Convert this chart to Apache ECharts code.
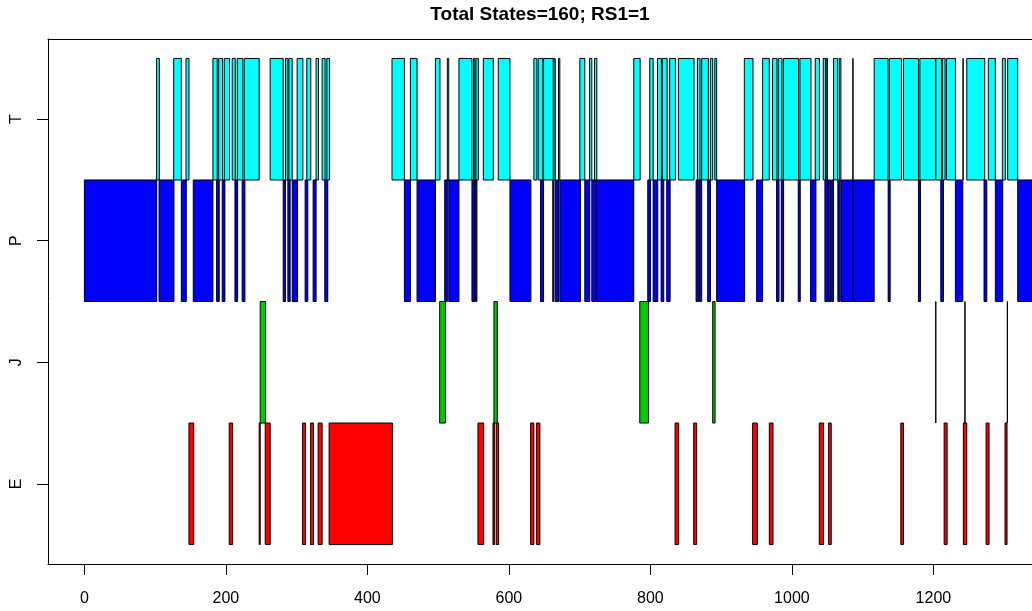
<!DOCTYPE html>
<html>
<head>
<meta charset="utf-8">
<script src="https://cdn.jsdelivr.net/npm/echarts@6/dist/echarts.min.js"></script>
<style>html,body{margin:0;padding:0;background:#fff;}#c{width:1032px;height:611px;}</style>
</head>
<body>
<div id="c"></div>
<script>
var stateNames = ['E', 'J', 'P', 'T'];
var xTicks = [0, 200, 400, 600, 800, 1000, 1200];
var titleText = 'Total States=160; RS1=1';

var E = [[147.8,154.5],[204.7,209.5],[247.1,248.5],[255.6,262.6],[308.3,312.6],[319.6,323.9],[330.4,336],[345.9,435.4],[556.3,564.3],[577.5,579.8],[582.2,585.5],[630.7,635.3],[639.2,643.8],[834.9,840],[861.2,865.4],[944.5,951.2],[968.1,973.3],[1038.7,1044.8],[1051.8,1055.6],[1154,1157.7],[1215.2,1219.4],[1242.4,1247.2],[1274.5,1278.7],[1301.3,1304.1]];
var J = [[248.5,256.1],[502.2,510.3],[578.9,583.6],[785,797.3],[888.1,891.4],[1203.3,1203.5],[1244.5,1244.7],[1304.5,1304.7]];
var P = [[0,102.2],[105.5,126.6],[137,144],[153.9,181.7],[186.9,190.6],[194.8,198.6],[212.8,216.6],[223,226.9],[281,284.3],[287.6,290.8],[293.7,301.3],[312,315.8],[323.3,327.5],[339.8,344],[452.3,460.8],[470.2,496.1],[509.3,513],[515,529.4],[547.8,551.5],[553,554.8],[601.5,631.1],[644.8,649],[662,663.6],[665.5,670.2],[672,701.3],[707.3,714.4],[717.2,722.8],[723.9,776.5],[796.3,800.1],[803.9,810.4],[815.2,818.9],[823.1,827.9],[864.6,867.8],[869.3,872.5],[881,884.8],[893.7,933.2],[950.2,958.6],[978.4,981.8],[985,988.3],[1009,1011.8],[1026.4,1034],[1046.7,1051],[1051.4,1054.7],[1055.6,1058.9],[1065,1068.4],[1070.2,1086.7],[1086.7,1116.3],[1136.1,1138.9],[1178.9,1181.7],[1210.5,1214.2],[1231.1,1241.6],[1271.6,1275.5],[1287.6,1298],[1319.2,1400]];
var T = [[102,105.9],[126.2,137],[143.6,147.8],[181.7,187.8],[189.7,195.4],[197.7,205.3],[208.9,213.2],[216,224],[225.9,247.1],[262.6,281],[284.3,287.6],[289,293.7],[300.7,308.8],[314.4,320],[327.5,330.9],[336,340.3],[342.7,346.5],[434.8,452.3],[460.8,470.2],[496.1,502.6],[513,515],[529.4,547.8],[550.2,552],[553.4,556.8],[563.9,578],[585,601.5],[635.3,639.6],[641.5,648],[649,662.7],[663.6,665.5],[670.2,672],[700.3,707.3],[714,717.2],[721,724.3],[776.5,785.5],[799.1,803.9],[810,815.6],[817,823.7],[827.3,835.4],[839.6,861.7],[866.4,870.2],[872.5,882],[884.8,888.1],[891,893.7],[932.8,945],[958.6,968.1],[972.7,979],[980.8,986],[987.9,1009.5],[1011.4,1027],[1033,1039],[1044.3,1047.6],[1048.6,1050.4],[1058.9,1064.6],[1066.9,1069.3],[1086.2,1086.4],[1116.3,1136],[1137.9,1154.9],[1157.7,1178.9],[1180.9,1202.9],[1203.5,1211.4],[1212.8,1216.6],[1218.5,1231.2],[1241.9,1242.1],[1247.2,1272.6],[1277.7,1287.6],[1297.5,1301.7],[1305,1319.2]];

var stateData = [E, J, P, T];
var stateColors = ['#FF0000', '#00CD00', '#0000FF', '#00FFFF'];
var FONT = 'Liberation Sans, Arial, sans-serif';

function makeRender(color) {
  return function (params, api) {
    var s = api.value(0), e = api.value(1), c = api.value(2);
    var p0 = api.coord([s, c + 0.5]);
    var p1 = api.coord([e, c - 0.5]);
    return {
      type: 'rect',
      shape: { x: p0[0], y: p0[1], width: Math.max(p1[0] - p0[0], 0.05), height: p1[1] - p0[1] },
      style: { fill: color, stroke: '#000', lineWidth: 1 }
    };
  };
}

var series = stateData.map(function (arr, i) {
  return {
    type: 'custom',
    name: stateNames[i],
    renderItem: makeRender(stateColors[i]),
    encode: { x: [0, 1], y: 2 },
    xAxisIndex: 0,
    data: arr.map(function (d) { return [d[0], d[1], i + 1]; }),
    animation: false,
    silent: true
  };
});

var chart = echarts.init(document.getElementById('c'), null, { renderer: 'canvas' });
chart.setOption({
  animation: false,
  backgroundColor: '#fff',
  textStyle: { fontFamily: FONT },
  grid: { left: 48, top: 39, right: 0, bottom: 47, show: false },
  graphic: [{
    type: 'text', x: 540, y: 15,
    style: { text: titleText, fontSize: 19, fontWeight: 'bold', fontFamily: FONT, fill: '#000', align: 'center', verticalAlign: 'middle' }
  }],
  xAxis: [{
    type: 'value', min: -51.45, max: 1339.4, position: 'bottom',
    axisLine: { show: true, onZero: false, lineStyle: { color: '#000', width: 1 } },
    splitLine: { show: false },
    axisTick: { show: true, length: 11, lineStyle: { color: '#000', width: 1 }, customValues: xTicks },
    axisLabel: { show: true, margin: 27, fontSize: 16, color: '#000', fontFamily: FONT, customValues: xTicks, formatter: function (v) { return String(v); } }
  }, {
    type: 'value', min: -51.45, max: 1339.4, position: 'top',
    axisLine: { show: true, onZero: false, lineStyle: { color: '#000', width: 1 } },
    splitLine: { show: false }, axisTick: { show: false }, axisLabel: { show: false }
  }],
  yAxis: {
    type: 'value', min: 0.34, max: 4.66,
    axisLine: { show: true, onZero: false, lineStyle: { color: '#000', width: 1 } },
    splitLine: { show: false },
    axisTick: { show: true, length: 11, lineStyle: { color: '#000', width: 1 }, customValues: [1, 2, 3, 4] },
    axisLabel: { show: true, margin: 23, rotate: 90, fontSize: 16, color: '#000', fontFamily: FONT, customValues: [1, 2, 3, 4], formatter: function (v) { return stateNames[Math.round(v) - 1]; } }
  },
  series: series
});
</script>
</body>
</html>
